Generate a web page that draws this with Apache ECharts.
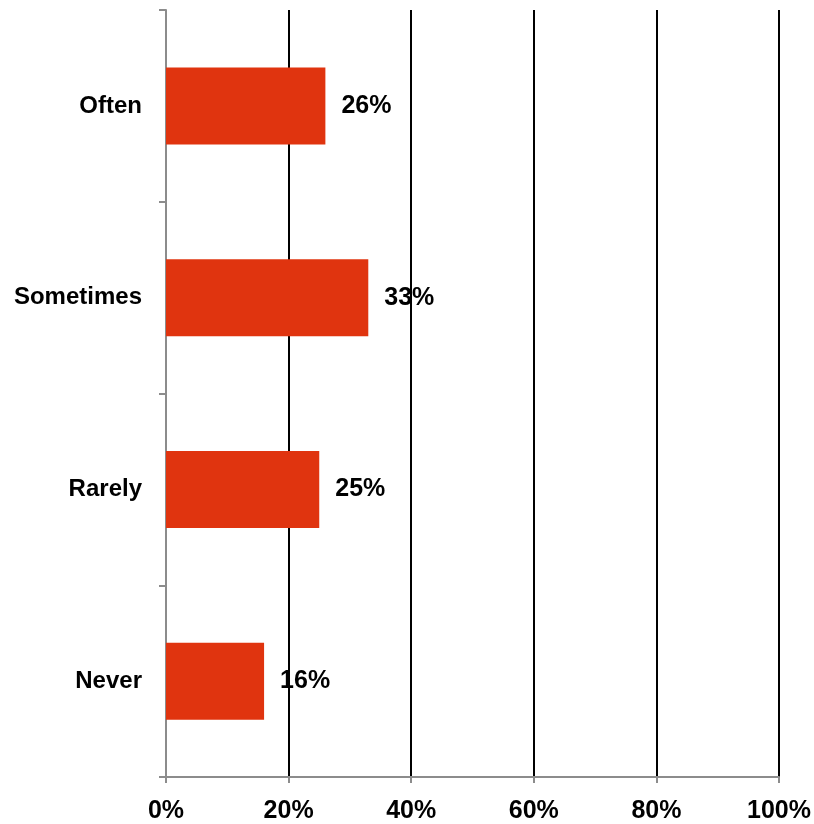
<!DOCTYPE html>
<html>
<head>
<meta charset="utf-8">
<style>
  html, body { margin: 0; padding: 0; background: #ffffff; }
  #chart { width: 814px; height: 824px; }
</style>
<script src="https://cdn.jsdelivr.net/npm/echarts@6/dist/echarts.min.js"></script>
</head>
<body>
<div id="chart"></div>
<script>
// Frequency categories, top to bottom
const categories = ['Often', 'Sometimes', 'Rarely', 'Never'];
// Share of respondents, in percent
const shares = [26, 33, 25, 16];
// Percent axis range and step
const axisMin = 0;
const axisMax = 100;
const axisStep = 20;

const FONT = '"Liberation Sans", Arial, sans-serif';
const AXIS_GREY = '#8c8c8c';

const chart = echarts.init(document.getElementById('chart'), null, { renderer: 'canvas' });

chart.setOption({
  animation: false,
  backgroundColor: '#ffffff',
  grid: { left: 166, right: 35, top: 10, bottom: 46, containLabel: false },
  xAxis: {
    type: 'value',
    min: axisMin,
    max: axisMax,
    interval: axisStep,
    axisLine: { show: true, lineStyle: { color: AXIS_GREY, width: 2 } },
    axisTick: { show: true, length: 6, lineStyle: { color: AXIS_GREY, width: 2 } },
    splitLine: {
      show: true,
      lineStyle: { color: '#000000', width: 2 }
    },
    axisLabel: {
      formatter: '{value}%',
      color: '#000000',
      fontFamily: FONT,
      fontWeight: 'bold',
      fontSize: 25,
      margin: 22
    }
  },
  yAxis: {
    type: 'category',
    data: categories,
    inverse: true,
    axisLine: { show: true, lineStyle: { color: AXIS_GREY, width: 2 } },
    axisTick: { show: true, length: 7, lineStyle: { color: AXIS_GREY, width: 2 } },
    splitLine: { show: false },
    axisLabel: {
      color: '#000000',
      fontFamily: FONT,
      fontWeight: 'bold',
      fontSize: 24,
      margin: 24
    }
  },
  series: [{
    type: 'bar',
    data: shares,
    barWidth: 77,
    itemStyle: { color: '#E0340F' },
    label: {
      show: true,
      position: 'right',
      distance: 16,
      formatter: '{c}%',
      color: '#000000',
      fontFamily: FONT,
      fontWeight: 'bold',
      fontSize: 25
    }
  }]
});
</script>
</body>
</html>
